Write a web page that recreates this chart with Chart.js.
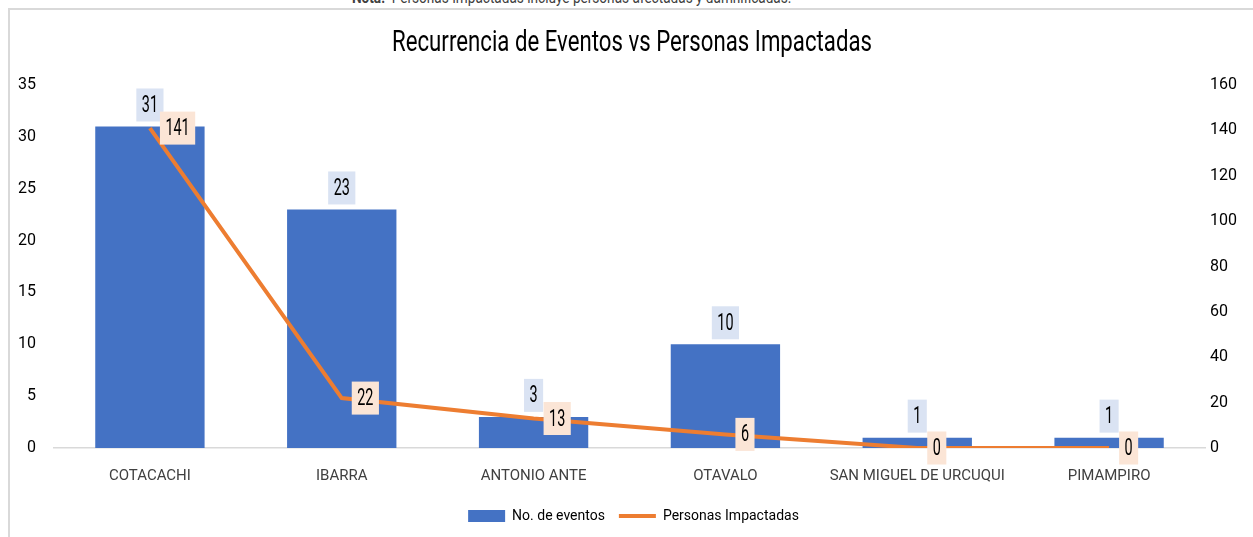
<!DOCTYPE html>
<html>
<head>
<meta charset="utf-8">
<script src="https://cdn.jsdelivr.net/npm/chart.js@4.4.1/dist/chart.umd.min.js"></script>
<style>
  html, body { margin: 0; padding: 0; background: #fff; overflow: hidden; }
  #wrap { position: relative; width: 1253px; height: 537px; }
  #frame { position: absolute; left: 8px; top: 8px; right: -2px; bottom: -2px; border-left: 2px solid #d9d9d9; border-top: 2px solid #d9d9d9; }
  #nota { position: absolute; left: 352px; top: -12px; font: 16px Roboto, sans-serif; color: #404040; white-space: nowrap; transform: scaleX(0.85); transform-origin: left top; }
  #chart { position: absolute; left: 0; top: 0; }
</style>
</head>
<body>
<div id="wrap">
  <div id="nota"><b>Nota:</b>&nbsp;&nbsp;Personas Impactadas incluye personas afectadas y damnificadas.</div>
  <div id="frame"></div>
  <canvas id="chart" width="1253" height="537"></canvas>
</div>
<script>
// Chart data
const cantones = ['COTACACHI', 'IBARRA', 'ANTONIO ANTE', 'OTAVALO', 'SAN MIGUEL DE URCUQUI', 'PIMAMPIRO'];
const eventos = [31, 23, 3, 10, 1, 1];
const personas = [141, 22, 13, 6, 0, 0];
const ticksLeft = [0, 5, 10, 15, 20, 25, 30, 35];
const ticksRight = [0, 20, 40, 60, 80, 100, 120, 140, 160];
const titulo = 'Recurrencia de Eventos vs Personas Impactadas';

const FONT = 'Roboto, sans-serif';
const BLUE = '#4472C4';
const ORANGE = '#ED7D31';

// narrow text: the original uses a condensed face, so squeeze horizontally
function narrowText(ctx, txt, cx, cy, sx) {
    ctx.save();
    ctx.translate(cx, cy);
    ctx.scale(sx, 1);
    ctx.fillText(txt, 0, 0);
    ctx.restore();
}

// Title + boxed data labels (bars above, line to the right)
const boxLabels = {
    id: 'boxLabels',
    afterDraw(chart) {
        const ctx = chart.ctx;
        ctx.save();
        ctx.textAlign = 'center';
        ctx.textBaseline = 'middle';

        // title
        ctx.font = '30px ' + FONT;
        ctx.fillStyle = '#000';
        const tw = ctx.measureText(titulo).width;
        narrowText(ctx, titulo, 632, 43, 480 / tw);

        ctx.font = '24px ' + FONT;
        const sx = 0.6;
        const h = 33;

        const barMeta = chart.getDatasetMeta(0);
        barMeta.data.forEach((el, i) => {
            const txt = String(eventos[i]);
            const w = ctx.measureText(txt).width * sx + 11;
            const cy = el.y - 5 - h / 2;
            ctx.fillStyle = '#DAE3F3';
            ctx.fillRect(el.x - w / 2, cy - h / 2, w, h);
            ctx.fillStyle = '#000';
            narrowText(ctx, txt, el.x, cy + 1, sx);
        });

        const lineMeta = chart.getDatasetMeta(1);
        lineMeta.data.forEach((el, i) => {
            const txt = String(personas[i]);
            const w = ctx.measureText(txt).width * sx + 11;
            const left = el.x + 10;
            ctx.fillStyle = '#FBE5D6';
            ctx.fillRect(left, el.y - h / 2, w, h);
            ctx.fillStyle = '#000';
            narrowText(ctx, txt, left + w / 2, el.y + 1, sx);
        });
        ctx.restore();
    }
};

const ctx = document.getElementById('chart').getContext('2d');
const chart = new Chart(ctx, {
    data: {
        labels: cantones,
        datasets: [
            {
                type: 'bar',
                label: 'No. de eventos',
                data: eventos,
                backgroundColor: BLUE,
                yAxisID: 'y',
                categoryPercentage: 1,
                barPercentage: 0.57,
                order: 2
            },
            {
                type: 'line',
                label: 'Personas Impactadas',
                data: personas,
                borderColor: ORANGE,
                backgroundColor: ORANGE,
                borderWidth: 4,
                pointRadius: 0,
                tension: 0,
                yAxisID: 'y1',
                order: 1
            }
        ]
    },
    options: {
        responsive: false,
        animation: false,
        layout: { padding: { left: 14, right: 0, top: 85, bottom: 4 } },
        plugins: {
            title: { display: false },
            legend: {
                position: 'bottom',
                labels: {
                    color: '#404040',
                    font: { family: FONT, size: 14 },
                    usePointStyle: true,
                    pointStyleWidth: 37,
                    boxHeight: 12,
                    padding: 14,
                    generateLabels(chart) {
                        return [
                            { text: 'No. de eventos', fillStyle: BLUE, strokeStyle: BLUE, lineWidth: 0, pointStyle: 'rect', datasetIndex: 0 },
                            { text: 'Personas Impactadas', fillStyle: ORANGE, strokeStyle: ORANGE, lineWidth: 4, pointStyle: 'line', datasetIndex: 1 }
                        ];
                    }
                }
            },
            tooltip: { enabled: false }
        },
        scales: {
            x: {
                grid: { display: false, drawTicks: false },
                border: { display: true, color: '#d9d9d9', width: 1.5 },
                afterFit: (axis) => { axis.height = 47; },
                ticks: { color: '#404040', font: { family: FONT, size: 15 }, padding: 19, maxRotation: 0, autoSkip: false }
            },
            y: {
                position: 'left',
                min: 0,
                max: 35,
                afterBuildTicks: (axis) => { axis.ticks = ticksLeft.map(v => ({ value: v })); },
                afterFit: (axis) => { axis.width = 40; },
                grid: { display: false, drawTicks: false },
                border: { display: false },
                ticks: { color: '#000', font: { family: FONT, size: 16 }, padding: 18 }
            },
            y1: {
                position: 'right',
                min: 0,
                max: 160,
                afterBuildTicks: (axis) => { axis.ticks = ticksRight.map(v => ({ value: v })); },
                afterFit: (axis) => { axis.width = 48; },
                grid: { display: false, drawTicks: false },
                border: { display: false },
                ticks: { color: '#000', font: { family: FONT, size: 16 }, padding: 5 }
            }
        }
    },
    plugins: [boxLabels]
});
</script>
</body>
</html>
